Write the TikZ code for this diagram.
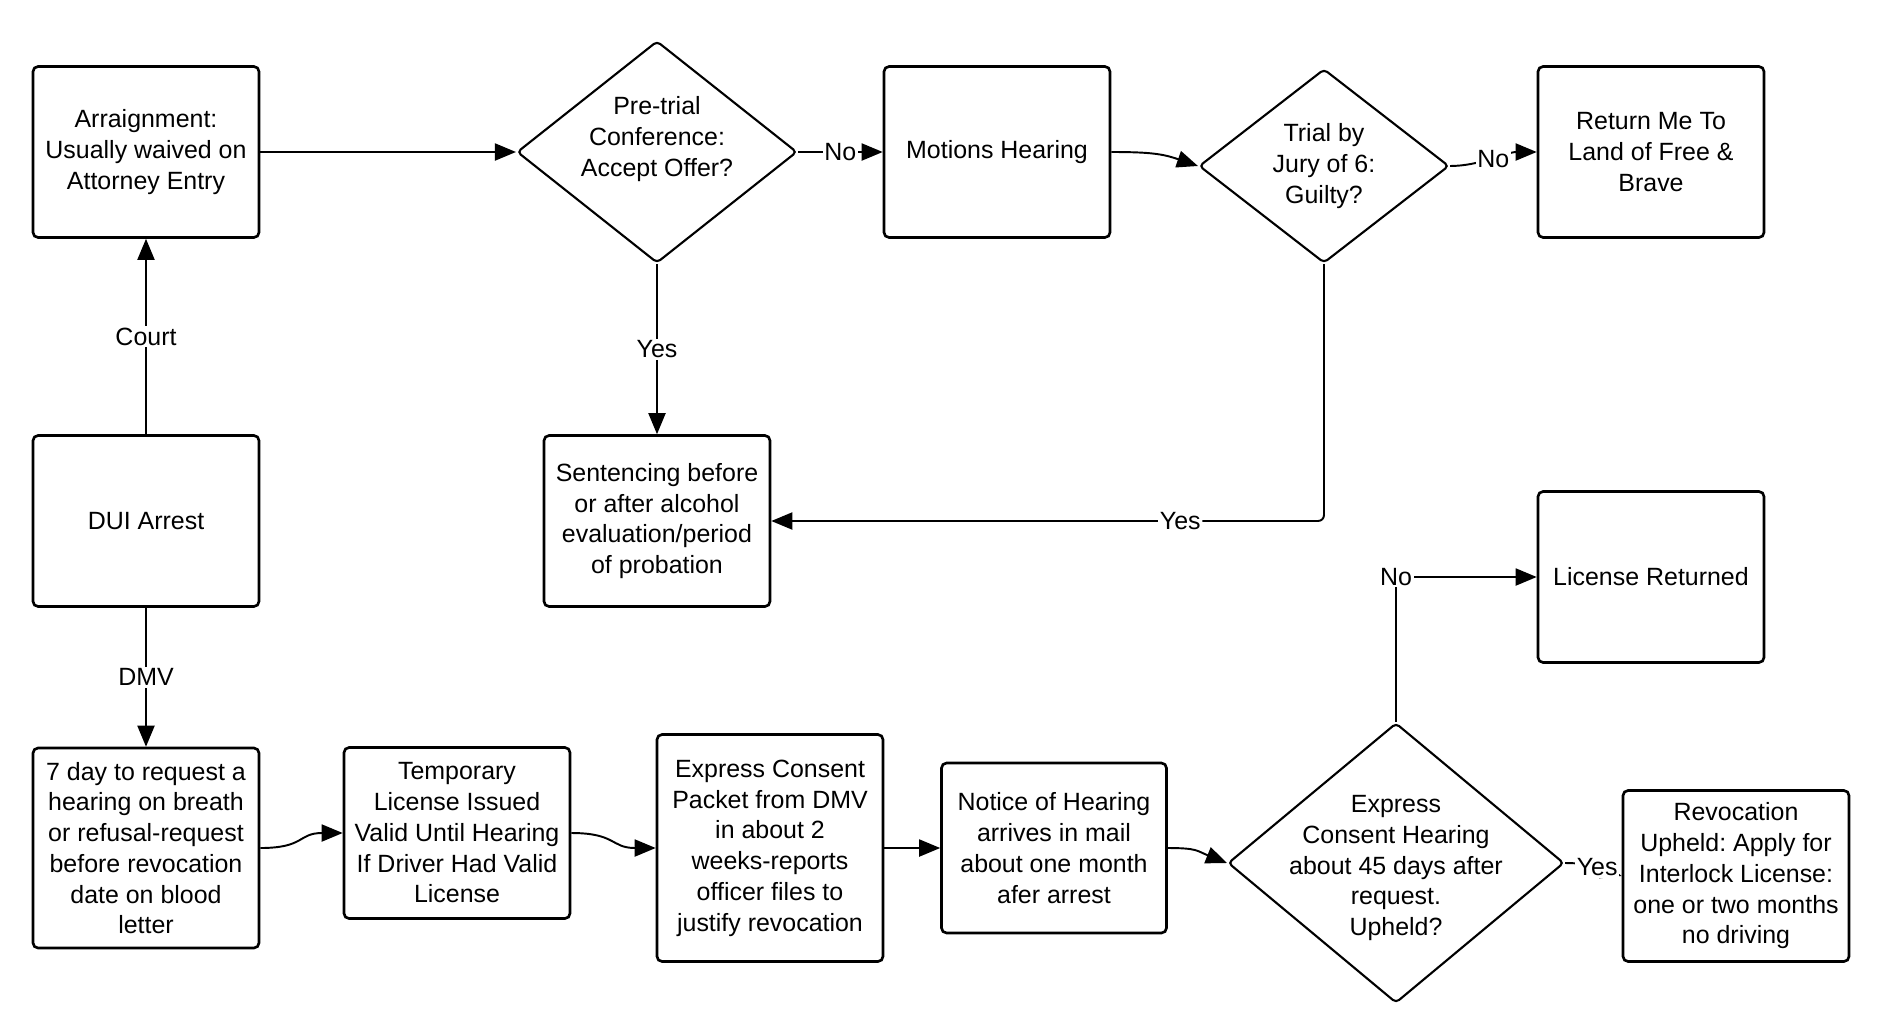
\documentclass[tikz,border=0pt]{standalone}
\usepackage{fontspec}
\setmainfont{Liberation Sans}
\usetikzlibrary{arrows.meta,shapes.geometric}
\frenchspacing

\tikzset{
  every node/.style={font=\fontsize{14.2}{17.5}\selectfont},
  stage/.style={draw, line width=1.5pt, rounded corners=0.1cm, align=center,
    inner sep=0pt, minimum width=4.52cm, minimum height=3.42cm},
  decision/.style={draw, diamond, line width=1.2pt, rounded corners=0.08cm, inner sep=0pt},
  flow/.style={-{Triangle[length=0.42cm,width=0.34cm]}, line width=1.1pt},
  lbl/.style={fill=white, inner sep=1pt}
}

\begin{document}
\begin{tikzpicture}[x=0.02cm, y=-0.02cm]
  \useasboundingbox (0,0) rectangle (1890,1032);

  % Court track
  \node[stage] (arr) at (146,152) {Arraignment:\\Usually waived on\\Attorney Entry};
  \node[decision, minimum width=5.6cm, minimum height=4.44cm,
    label={[align=center, yshift=0.26cm]center:{Pre-trial\\Conference:\\Accept Offer?}}] (pre) at (657,152) {};
  \node[stage] (mot) at (997,152) {Motions Hearing};
  \node[decision, minimum width=5cm, minimum height=3.88cm,
    label={[align=center]center:{Trial by\\Jury of 6:\\Guilty?}}] (tri) at (1324,166) {};
  \node[stage] (ret) at (1651,152) {Return Me To\\Land of Free \&\\Brave};
  \node[stage] (dui) at (146,521) {DUI Arrest};
  \node[stage] (sen) at (657,521) {Sentencing before\\or after alcohol\\evaluation/period\\of probation};

  % DMV track
  \node[stage] (lic) at (1651,577) {License Returned};
  \node[stage, minimum height=4cm] (day) at (146,848) {7 day to request a\\hearing on breath\\or refusal-request\\before revocation\\date on blood\\letter};
  \node[stage] (tmp) at (457,833) {Temporary\\License Issued\\Valid Until Hearing\\If Driver Had Valid\\License};
  \node[stage, minimum height=4.54cm] (pkt) at (770,848) {Express Consent\\Packet from DMV\\in about 2\\weeks-reports\\officer files to\\justify revocation};
  \node[stage, minimum width=4.5cm, minimum height=3.4cm] (ntc) at (1054,848) {Notice of Hearing\\arrives in mail\\about one month\\afer arrest};
  \node[decision, minimum width=6.72cm, minimum height=5.6cm,
    label={[align=center, yshift=-0.1cm]center:{Express\\Consent Hearing\\about 45 days after\\request.\\Upheld?}}] (hear) at (1396,863) {};
  \node[stage] (rev) at (1736,876) {Revocation\\Upheld: Apply for\\Interlock License:\\one or two months\\no driving};

  % Connectors
  \draw[flow] (dui.north) -- node[lbl] {Court} (arr.south);
  \draw[flow] (arr.east) -- (pre.west);
  \draw[flow] (pre.east) -- node[lbl] {No} (mot.west);
  \draw[flow] (pre.south) -- node[lbl] {Yes} (sen.north);
  \draw[flow] (mot.east) .. controls +(40,0) and +(-35,-12) .. (tri.west);
  \draw[flow] (tri.east) .. controls +(30,0) and +(-30,0) .. node[lbl] {No} (ret.west);
  \draw[flow, rounded corners=0.12cm] (tri.south) |- node[lbl, pos=0.63] {Yes} (sen.east);

  \draw[flow] (dui.south) -- node[lbl] {DMV} (day.north);
  \draw[flow] (day.east) .. controls +(45,0) and +(-45,0) .. (tmp.west);
  \draw[flow] (tmp.east) .. controls +(45,0) and +(-45,0) .. (pkt.west);
  \draw[flow] (pkt.east) -- (ntc.west);
  \draw[flow] (ntc.east) .. controls +(30,0) and +(-30,-12) .. (hear.west);
  \draw[flow] (hear.east) .. controls +(30,0) and +(-20,-6) .. node[lbl] {Yes} (rev.west);
  \draw[flow] (hear.north) |- node[lbl] {No} (lic.west);
\end{tikzpicture}
\end{document}
